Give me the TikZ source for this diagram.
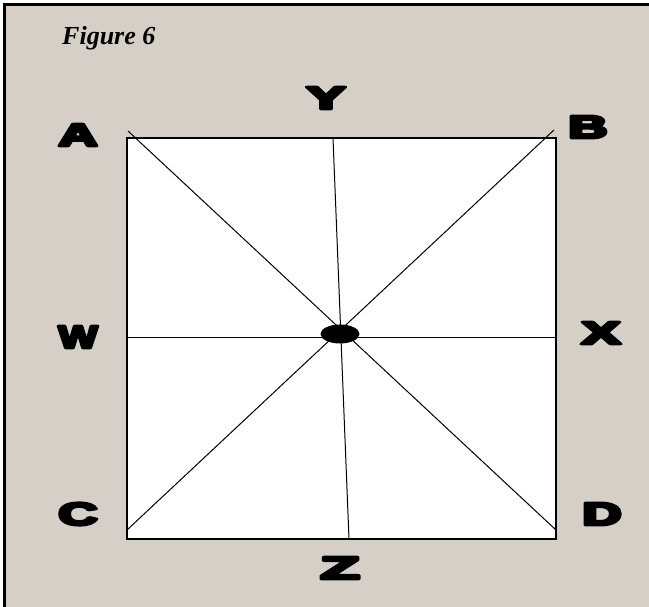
\documentclass[tikz,border=0pt]{standalone}
\usepackage{fontspec}
\setmainfont{Liberation Serif}
\newfontfamily\letterfont{Liberation Sans}
\usetikzlibrary{shapes.geometric}
\definecolor{paper}{RGB}{214,207,200}
% heavy, wide capitals (fill + stroke text)
\newcommand\wideletter[1]{\resizebox{39pt}{22pt}{\special{pdf:literal direct 2 Tr 0.9 w 1 j}\letterfont\bfseries #1\special{pdf:literal direct 0 Tr 0.4 w 0 j}}}

\begin{document}
\begin{tikzpicture}[x=1pt,y=-1pt]
\useasboundingbox (0,0) rectangle (649,607);
\fill[white] (0,0) rectangle (649,607);
\fill[paper] (3,3) rectangle (649,607);
\draw[line width=3pt] (4.5,607) -- (4.5,4.5) -- (649,4.5);

\node[anchor=base west,inner sep=0,font=\fontsize{26}{30}\selectfont\bfseries\itshape] (title) at (62,45) {Figure 6};

% the square
\coordinate (tl) at (127,138);
\coordinate (br) at (556,539);
\fill[white] (tl) rectangle (br);
\draw[line width=1.3pt] (tl) rectangle (br);

% line ends
\coordinate (a0) at (128,131);
\coordinate (d0) at (556,530);
\coordinate (b0) at (554,130);
\coordinate (c0) at (127,530);
\coordinate (y0) at (333,138);
\coordinate (z0) at (349,539);
\coordinate (w0) at (127,338);
\coordinate (x0) at (556,338);

\draw[line width=1pt] (a0) -- (d0);
\draw[line width=1pt] (b0) -- (c0);
\draw[line width=1pt] (y0) -- (z0);
\draw[line width=1pt] (w0) -- (x0);

\node[ellipse,fill=black,minimum width=39pt,minimum height=19pt,inner sep=0] (hub) at (340,334) {};

% letters
\node (A) at (78,135) {\wideletter{A}};
\node (Y) at (326,98) {\wideletter{Y}};
\node (B) at (588,127) {\wideletter{B}};
\node (W) at (78,337) {\wideletter{W}};
\node (X) at (601,333) {\wideletter{X}};
\node (C) at (78,514) {\wideletter{C}};
\node (D) at (602,514) {\wideletter{D}};
\node (Z) at (340,568) {\wideletter{Z}};
\end{tikzpicture}
\end{document}
